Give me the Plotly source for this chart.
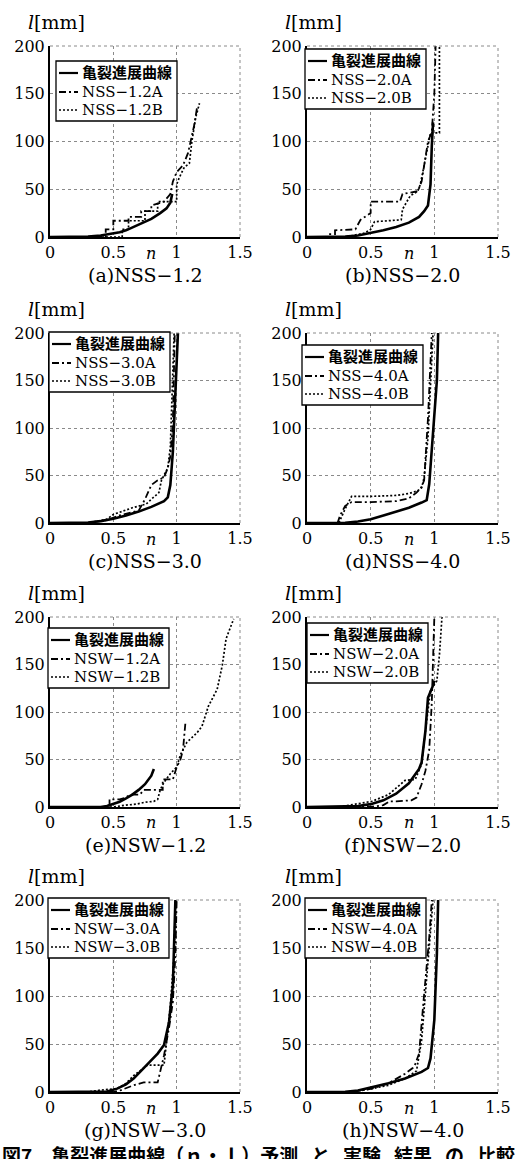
import plotly.graph_objects as go

# ---------------- data (n : life ratio, l : crack length [mm]) ----------------
nss12_curve_n = [0, 0.3, 0.4, 0.5, 0.55, 0.6, 0.7, 0.8, 0.87, 0.92, 0.95, 0.965]
nss12_curve_l = [0, 0.5, 1.5, 3.5, 5, 7, 13, 19, 25, 30, 36, 45]
nss12_A_n = [0, 0.44, 0.44, 0.5, 0.5, 0.62, 0.62, 0.72, 0.72, 0.8, 0.8, 0.9, 0.95, 0.97, 1.0, 1.05, 1.09, 1.11, 1.14, 1.16]
nss12_A_l = [0, 0, 8, 8, 17, 17, 21, 21, 27, 27, 33, 37, 45, 58, 68, 75, 88, 100, 118, 135]
nss12_B_n = [0, 0.57, 0.57, 0.62, 0.62, 0.75, 0.75, 0.85, 0.85, 1.0, 1.0, 1.02, 1.06, 1.1, 1.12, 1.15, 1.18]
nss12_B_l = [0, 0, 8, 8, 17, 17, 27, 27, 37, 37, 55, 62, 73, 77, 100, 125, 140]

nss20_curve_n = [0, 0.3, 0.4, 0.5, 0.6, 0.7, 0.8, 0.88, 0.92, 0.95, 0.97, 0.98, 0.99]
nss20_curve_l = [0, 0.5, 1.5, 4, 7, 10.5, 15, 21, 27, 33, 55, 95, 120]
nss20_A_n = [0, 0.17, 0.17, 0.22, 0.22, 0.38, 0.42, 0.5, 0.5, 0.73, 0.75, 0.87, 0.9, 0.95, 0.98, 1.0, 1.01]
nss20_A_l = [0, 0, 3, 3, 7, 8, 18, 25, 37, 37, 45, 48, 58, 100, 110, 150, 200]
nss20_B_n = [0, 0.3, 0.45, 0.48, 0.5, 0.53, 0.74, 0.75, 0.81, 0.87, 0.89, 0.97, 1.04, 1.04]
nss20_B_l = [0, 0, 4, 6, 8, 16, 18, 29, 43, 48, 55, 109, 109, 200]

nss30_curve_n = [0, 0.3, 0.4, 0.5, 0.6, 0.7, 0.8, 0.9, 0.93, 0.95, 0.97, 0.99, 1.01]
nss30_curve_l = [0, 0.5, 2, 4.5, 8, 12, 17, 23, 27, 40, 75, 140, 200]
nss30_A_n = [0, 0.3, 0.45, 0.55, 0.7, 0.75, 0.8, 0.85, 0.9, 0.93, 0.95, 0.97, 0.985]
nss30_A_l = [0, 0, 3, 8, 13, 25, 40, 45, 48, 58, 70, 105, 200]
nss30_B_n = [0, 0.3, 0.45, 0.5, 0.65, 0.76, 0.8, 0.86, 0.88, 0.93, 0.95, 0.97, 0.98]
nss30_B_l = [0, 0, 4, 9, 16, 20, 25, 32, 45, 58, 80, 150, 200]

nss40_curve_n = [0, 0.3, 0.4, 0.5, 0.6, 0.7, 0.8, 0.9, 0.94, 0.96, 0.99, 1.02, 1.03]
nss40_curve_l = [0, 0.3, 1.5, 4, 8, 12, 16, 21.5, 24, 41, 94, 150, 200]
nss40_A_n = [0, 0.24, 0.26, 0.3, 0.35, 0.5, 0.7, 0.8, 0.86, 0.9, 0.92, 0.95, 0.98]
nss40_A_l = [0, 0, 8, 18, 22, 22, 23, 26, 32, 38, 45, 110, 200]
nss40_B_n = [0, 0.25, 0.3, 0.35, 0.5, 0.7, 0.8, 0.87, 0.9, 0.92, 0.95, 0.97, 0.99]
nss40_B_l = [0, 0, 15, 28, 28, 29, 31, 34, 37, 48, 90, 140, 200]

nsw12_curve_n = [0, 0.4, 0.45, 0.5, 0.55, 0.6, 0.65, 0.7, 0.75, 0.8, 0.82]
nsw12_curve_l = [0, 0, 1, 3, 5.5, 9, 13, 18, 24, 33, 40]
nsw12_A_n = [0, 0.47, 0.47, 0.55, 0.6, 0.63, 0.71, 0.74, 0.87, 0.89, 0.89, 0.97, 1.0, 1.03, 1.05, 1.07]
nsw12_A_l = [0, 0, 8, 8, 10, 13, 13, 18, 18, 18, 29, 29, 42, 50, 60, 90]
nsw12_B_n = [0, 0.5, 0.6, 0.68, 0.75, 0.82, 0.85, 0.87, 0.9, 0.95, 1.0, 1.03, 1.08, 1.16, 1.2, 1.25, 1.32, 1.36, 1.39, 1.45]
nsw12_B_l = [0, 0, 2, 3, 5, 6, 8, 18, 26, 35, 42, 55, 68, 78, 85, 106, 124, 149, 177, 198]

nsw20_curve_n = [0, 0.3, 0.4, 0.5, 0.6, 0.7, 0.8, 0.88, 0.9, 0.93, 0.95, 0.99, 1.0]
nsw20_curve_l = [0, 0.3, 1, 3, 7, 14, 25, 40, 47, 80, 115, 128, 133]
nsw20_A_n = [0, 0.5, 0.6, 0.65, 0.7, 0.82, 0.86, 0.9, 0.93, 0.96, 0.98, 0.99, 1.0]
nsw20_A_l = [0, 0, 2, 6, 6, 7, 10, 24, 38, 60, 110, 160, 200]
nsw20_B_n = [0, 0.25, 0.38, 0.51, 0.64, 0.77, 0.85, 0.9, 0.93, 0.97, 1.02, 1.04, 1.06]
nsw20_B_l = [0, 0, 3, 6, 13, 28, 29, 45, 80, 123, 133, 160, 200]

nsw30_curve_n = [0, 0.4, 0.45, 0.53, 0.6, 0.66, 0.72, 0.79, 0.85, 0.9, 0.94, 0.97, 0.98, 0.99]
nsw30_curve_l = [0, 0, 0.5, 3.5, 8, 14, 22, 31, 40, 49, 73, 111, 157, 200]
nsw30_A_n = [0, 0.5, 0.56, 0.66, 0.74, 0.85, 0.9, 0.94, 0.97, 0.99, 1.0]
nsw30_A_l = [0, 0, 2, 7, 10, 10, 38, 67, 94, 143, 200]
nsw30_B_n = [0, 0.3, 0.4, 0.53, 0.6, 0.66, 0.77, 0.9, 0.92, 0.95, 0.98, 0.99]
nsw30_B_l = [0, 0, 2, 3.5, 9, 17, 28, 28, 52, 90, 143, 200]

nsw40_curve_n = [0, 0.3, 0.4, 0.51, 0.64, 0.77, 0.9, 0.95, 0.97, 1.0, 1.02, 1.03]
nsw40_curve_l = [0, 0.3, 1.5, 5, 9, 14, 21, 25, 35, 75, 144, 200]
nsw40_A_n = [0, 0.35, 0.51, 0.64, 0.77, 0.83, 0.85, 0.88, 0.92, 0.96, 0.98]
nsw40_A_l = [0, 0, 3.5, 9, 19, 25, 29, 40, 102, 161, 200]
nsw40_B_n = [0, 0.35, 0.51, 0.64, 0.77, 0.86, 0.9, 0.93, 0.97, 0.99]
nsw40_B_l = [0, 0, 3.5, 7, 14, 22, 54, 102, 161, 200]

curve_name = "亀裂進展曲線"
panel_codes = ["NSS−1.2", "NSS−2.0", "NSS−3.0", "NSS−4.0",
               "NSW−1.2", "NSW−2.0", "NSW−3.0", "NSW−4.0"]
panel_letters = ["a", "b", "c", "d", "e", "f", "g", "h"]
x_ticks = [0, 0.5, 1, 1.5]
x_ticktext = ["0", "0.5", "1", "1.5"]
y_ticks = [0, 50, 100, 150, 200]
y_ticktext = ["0", "50", "100", "150", "200"]
fig_caption = "図7　亀裂進展曲線（ｎ・ｌ）予測   と   実験   結果   の   比較"

series = [
    (nss12_curve_n, nss12_curve_l, nss12_A_n, nss12_A_l, nss12_B_n, nss12_B_l),
    (nss20_curve_n, nss20_curve_l, nss20_A_n, nss20_A_l, nss20_B_n, nss20_B_l),
    (nss30_curve_n, nss30_curve_l, nss30_A_n, nss30_A_l, nss30_B_n, nss30_B_l),
    (nss40_curve_n, nss40_curve_l, nss40_A_n, nss40_A_l, nss40_B_n, nss40_B_l),
    (nsw12_curve_n, nsw12_curve_l, nsw12_A_n, nsw12_A_l, nsw12_B_n, nsw12_B_l),
    (nsw20_curve_n, nsw20_curve_l, nsw20_A_n, nsw20_A_l, nsw20_B_n, nsw20_B_l),
    (nsw30_curve_n, nsw30_curve_l, nsw30_A_n, nsw30_A_l, nsw30_B_n, nsw30_B_l),
    (nsw40_curve_n, nsw40_curve_l, nsw40_A_n, nsw40_A_l, nsw40_B_n, nsw40_B_l),
]

# ---------------- layout geometry (pixels) ----------------
W, H = 517, 1159
def px(x):
    return x / W
def py(y):
    return 1 - y / H

col_x = [(50, 240), (307, 498)]
row_y = [(46, 237), (333, 523), (617, 807), (900, 1092)]
legend_pos = [(56, 61), (305, 49), (49, 332), (302, 345),
              (48, 628), (307, 623), (48, 898), (305, 898)]
LEG_W, LEG_H = 121, 60
LEG_ROWS = [12, 31, 49]

SERIF = "DejaVu Serif, Noto Sans CJK JP"
styles = [dict(color="black", width=2.6),
          dict(color="black", width=1.8, dash="7px,3px,2px,3px"),
          dict(color="black", width=1.7, dash="2px,2px")]

fig = go.Figure()
annotations = []
shapes = []
layout = {}

for i in range(8):
    r, c = divmod(i, 2)
    L, R = col_x[c]
    T, B = row_y[r]
    k = i + 1
    xa = "x" if k == 1 else f"x{k}"
    ya = "y" if k == 1 else f"y{k}"
    cn, cl, an, al, bn, bl = series[i]
    code = panel_codes[i]
    names = [curve_name, code + "A", code + "B"]
    for (sx, sy), nm, st in zip([(cn, cl), (an, al), (bn, bl)], names, styles):
        fig.add_trace(go.Scatter(x=sx, y=sy, mode="lines", name=nm, line=st,
                                 xaxis=xa, yaxis=ya, showlegend=False))

    axis_common = dict(showgrid=True, gridcolor="#8a8a8a", gridwidth=1, griddash="dot",
                       showline=True, linecolor="black", linewidth=2, ticks="",
                       zeroline=False, automargin=False, fixedrange=True,
                       ticklabeloverflow="allow",
                       tickfont=dict(family=SERIF, size=16, color="black"))
    layout["xaxis" if k == 1 else f"xaxis{k}"] = dict(
        domain=[px(L), px(R)], range=[0, 1.5], anchor=ya,
        tickvals=x_ticks, ticktext=x_ticktext, **axis_common)
    layout["yaxis" if k == 1 else f"yaxis{k}"] = dict(
        domain=[py(B), py(T)], range=[0, 200], anchor=xa,
        tickvals=y_ticks, ticktext=y_ticktext, **axis_common)

    # top and right dotted frame
    shapes.append(dict(type="line", xref=f"{xa} domain", yref=f"{ya} domain",
                       x0=0, x1=1, y0=1, y1=1,
                       line=dict(color="#8a8a8a", width=1, dash="dot")))
    shapes.append(dict(type="line", xref=f"{xa} domain", yref=f"{ya} domain",
                       x0=1, x1=1, y0=0, y1=1,
                       line=dict(color="#8a8a8a", width=1, dash="dot")))

    # legend box (drawn as a framed key)
    lx, ly = legend_pos[i]
    shapes.append(dict(type="rect", xref="paper", yref="paper",
                       x0=px(lx), x1=px(lx + LEG_W), y0=py(ly + LEG_H), y1=py(ly),
                       line=dict(color="black", width=1.3), fillcolor="white", layer="above"))
    for j, (nm, st) in enumerate(zip(names, styles)):
        yy = ly + LEG_ROWS[j]
        shapes.append(dict(type="line", xref="paper", yref="paper",
                           x0=px(lx + 3), x1=px(lx + 22), y0=py(yy), y1=py(yy),
                           line=dict(color="black", width=min(st["width"], 2.2),
                                     dash=st.get("dash", "solid")), layer="above"))
        txt = f"<b>{nm}</b>" if j == 0 else nm
        annotations.append(dict(text=txt, x=px(lx + 24), y=py(yy), xref="paper", yref="paper",
                                xanchor="left", yanchor="middle", showarrow=False,
                                font=dict(family=SERIF, size=15, color="black")))

    # axis labels and panel captions
    annotations.append(dict(text="<i>l</i>[mm]", x=px(L - 24), y=py(T - 24),
                            xref="paper", yref="paper", xanchor="left", yanchor="middle",
                            showarrow=False, font=dict(family=SERIF, size=19, color="black")))
    annotations.append(dict(text="<i>n</i>", x=px((L + R) / 2 + 6), y=py(B + 16),
                            xref="paper", yref="paper", xanchor="center", yanchor="middle",
                            showarrow=False, font=dict(family=SERIF, size=16, color="black")))
    annotations.append(dict(text=f"({panel_letters[i]}){code}", x=px((L + R) / 2), y=py(B + 38),
                            xref="paper", yref="paper", xanchor="center", yanchor="middle",
                            showarrow=False, font=dict(family=SERIF, size=19, color="black")))

annotations.append(dict(text=f"<b>{fig_caption}</b>", x=px(0), y=py(1139), xref="paper", yref="paper",
                        xanchor="left", yanchor="top", showarrow=False,
                        font=dict(family="Noto Sans CJK JP", size=19, color="black")))

fig.update_layout(width=W, height=H, autosize=False,
                  margin=dict(l=0, r=0, t=0, b=0, pad=0),
                  paper_bgcolor="white", plot_bgcolor="white",
                  font=dict(family=SERIF, color="black"),
                  showlegend=False,
                  annotations=annotations, shapes=shapes, **layout)

fig.write_html("out.html",
               config={"displayModeBar": False, "staticPlot": True},
               post_script="document.body.style.margin='0';document.body.style.padding='0';"
                           "document.documentElement.style.overflow='hidden';")
